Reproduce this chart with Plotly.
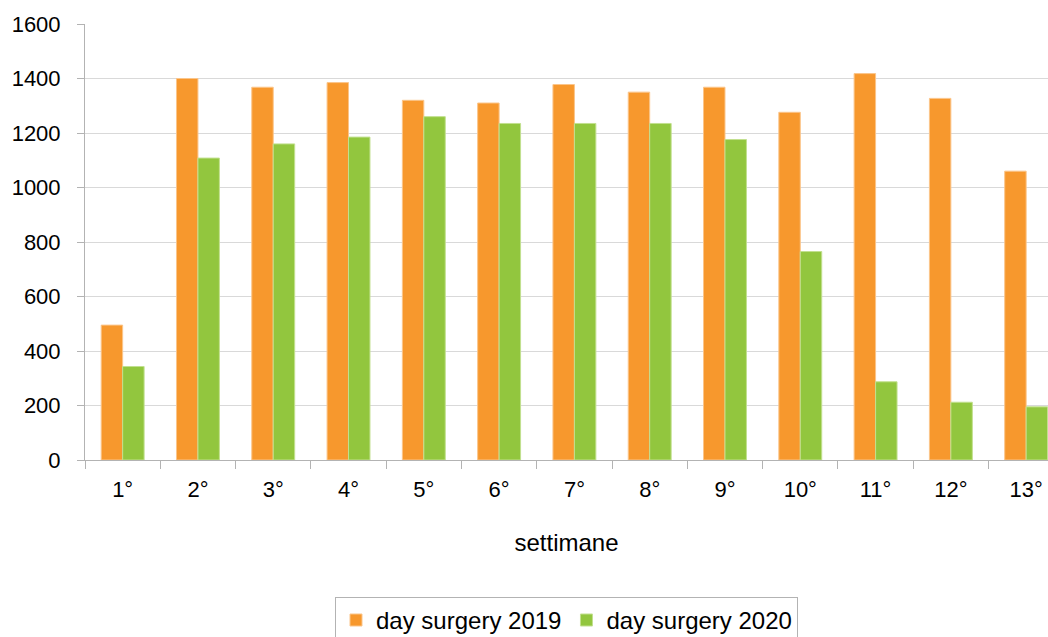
import plotly.graph_objects as go

weeks = ["1°", "2°", "3°", "4°", "5°", "6°", "7°", "8°", "9°", "10°", "11°", "12°", "13°"]
ds2019 = [495, 1400, 1368, 1385, 1320, 1310, 1378, 1350, 1368, 1276, 1418, 1327, 1060]
ds2020 = [343, 1108, 1160, 1185, 1260, 1235, 1235, 1235, 1176, 765, 287, 212, 195]

fig = go.Figure()
fig.add_trace(go.Bar(x=weeks, y=ds2019, name="day surgery 2019",
                     marker=dict(color="#F7982D", line=dict(color="#FBC58A", width=1))))
fig.add_trace(go.Bar(x=weeks, y=ds2020, name="day surgery 2020",
                     marker=dict(color="#92C63E", line=dict(color="#C2E08F", width=1))))

font = "Liberation Sans, Arial, sans-serif"
fig.update_layout(
    width=1048, height=637,
    margin=dict(l=85, r=0, t=24, b=177, autoexpand=False),
    paper_bgcolor="white", plot_bgcolor="white",
    barmode="group", bargap=0.43, bargroupgap=0,
    font=dict(family=font, size=22, color="#000000"),
    xaxis=dict(
        range=[-0.5, 12.29], type="category", automargin=False,
        tickson="boundaries", ticks="outside", ticklen=8, tickcolor="#b3b3b3",
        showline=True, linecolor="#b3b3b3", linewidth=1,
        showgrid=False, tickfont=dict(size=22), ticklabelstandoff=10,
        title=dict(text="settimane", font=dict(size=24), standoff=32),
    ),
    yaxis=dict(
        range=[0, 1600], dtick=200, ticks="outside", ticklen=7, tickcolor="#b3b3b3",
        showline=True, linecolor="#b3b3b3", linewidth=1, automargin=False,
        gridcolor="#d9d9d9", gridwidth=1, zeroline=False,
        tickfont=dict(size=22), ticklabelstandoff=12,
    ),
    legend=dict(
        orientation="h", x=0.5, xanchor="center", y=-0.314, yanchor="top",
        bordercolor="#b3b3b3", borderwidth=1, font=dict(size=24),
        itemwidth=30, traceorder="normal",
    ),
    showlegend=True,
)

fig.write_html("out.html", config={"displayModeBar": False},
               post_script="document.body.style.margin='0px';")
